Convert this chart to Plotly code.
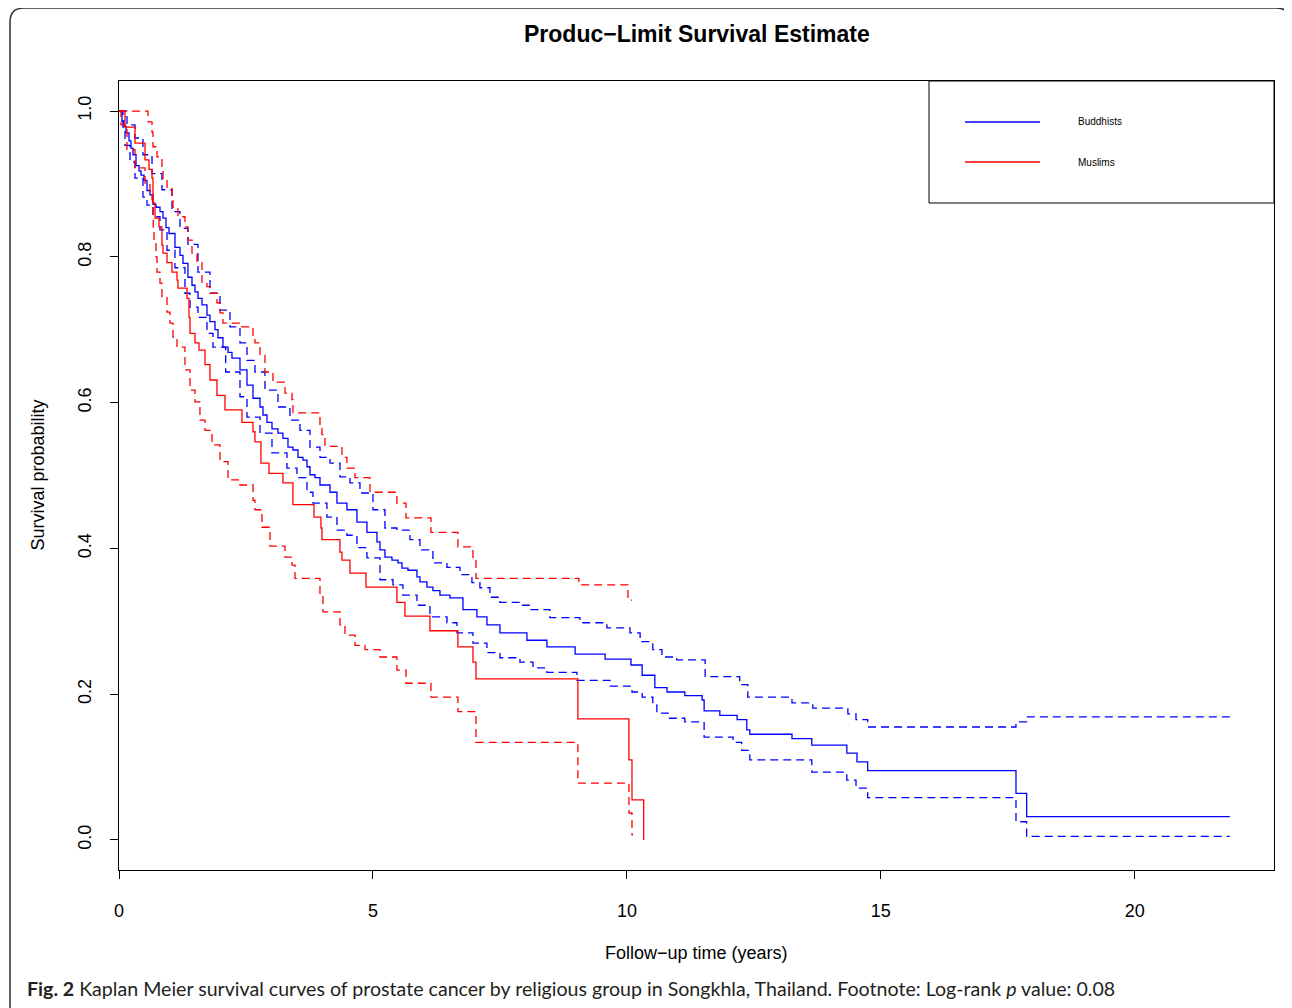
import plotly.graph_objects as go

# ---------------- data ----------------
# Buddhists: Kaplan-Meier estimate
bud_t = [0, 0.059, 0.098, 0.138, 0.197, 0.236, 0.276, 0.335, 0.394, 0.433, 0.492, 0.551, 0.610,
         0.669, 0.728, 0.807, 0.866, 0.925, 0.984, 1.102, 1.201, 1.260, 1.358, 1.437, 1.496,
         1.555, 1.634, 1.732, 1.791, 1.890, 1.949, 2.047, 2.146, 2.224, 2.382, 2.520, 2.638,
         2.776, 2.835, 2.913, 3.012, 3.130, 3.228, 3.327, 3.425, 3.524, 3.622, 3.701, 3.760,
         3.858, 3.957, 4.154, 4.291, 4.488, 4.685, 4.882, 5.079, 5.138, 5.236, 5.374, 5.492,
         5.571, 5.689, 5.866, 5.925, 6.063, 6.181, 6.319, 6.516, 6.772, 7.047, 7.244, 7.500,
         8.031, 8.425, 8.98, 9.57, 10.08, 10.30, 10.55, 10.79, 11.14, 11.48, 11.52, 11.83,
         12.17, 12.36, 12.42, 13.25, 13.64, 14.33, 14.53, 14.74, 17.66, 17.87, 21.87]
bud_s = [1.0, 0.986, 0.979, 0.970, 0.959, 0.949, 0.940, 0.925, 0.918, 0.912, 0.905, 0.891, 0.885,
         0.872, 0.868, 0.862, 0.853, 0.840, 0.832, 0.813, 0.802, 0.791, 0.772, 0.761, 0.752,
         0.743, 0.734, 0.720, 0.711, 0.700, 0.689, 0.676, 0.669, 0.661, 0.645, 0.624, 0.606,
         0.594, 0.583, 0.573, 0.564, 0.558, 0.551, 0.539, 0.535, 0.525, 0.521, 0.512, 0.501,
         0.497, 0.487, 0.477, 0.462, 0.453, 0.436, 0.422, 0.409, 0.398, 0.388, 0.384, 0.380,
         0.373, 0.370, 0.361, 0.354, 0.347, 0.342, 0.336, 0.332, 0.316, 0.306, 0.295, 0.284,
         0.274, 0.265, 0.255, 0.248, 0.240, 0.226, 0.209, 0.203, 0.198, 0.192, 0.177, 0.171,
         0.165, 0.151, 0.145, 0.139, 0.130, 0.119, 0.107, 0.095, 0.064, 0.032, 0.032]

bud_up_t = [0, 0.157, 0.315, 0.472, 0.650, 0.846, 1.043, 1.201, 1.358, 1.555, 1.791, 1.988, 2.185,
            2.382, 2.520, 2.677, 2.874, 3.130, 3.366, 3.563, 3.760, 3.957, 4.154, 4.350, 4.547,
            4.744, 5.000, 5.236, 5.472, 5.728, 5.925, 6.181, 6.457, 6.713, 6.949, 7.106, 7.303,
            7.500, 7.894, 8.091, 8.484, 9.075, 9.606, 10.06, 10.26, 10.51, 10.69, 10.98, 11.54,
            12.22, 12.38, 13.25, 13.66, 14.35, 14.51, 14.74, 17.66, 17.87, 21.87]
bud_up_s = [1.0, 0.981, 0.963, 0.940, 0.914, 0.892, 0.862, 0.839, 0.817, 0.779, 0.750, 0.727, 0.704,
            0.682, 0.658, 0.642, 0.617, 0.594, 0.576, 0.562, 0.539, 0.525, 0.517, 0.498, 0.490,
            0.476, 0.453, 0.428, 0.425, 0.412, 0.398, 0.380, 0.374, 0.364, 0.353, 0.346, 0.333,
            0.326, 0.322, 0.316, 0.305, 0.298, 0.291, 0.284, 0.272, 0.261, 0.251, 0.247, 0.224,
            0.213, 0.196, 0.188, 0.181, 0.173, 0.165, 0.155, 0.162, 0.169, 0.169]

bud_lo_t = [0, 0.079, 0.118, 0.217, 0.315, 0.472, 0.551, 0.669, 0.807, 0.945, 1.102, 1.299, 1.398,
            1.555, 1.732, 1.850, 2.10, 2.382, 2.520, 2.776, 3.012, 3.307, 3.504, 3.701, 3.819,
            4.094, 4.291, 4.488, 4.685, 4.882, 5.138, 5.394, 5.591, 5.866, 6.122, 6.457, 6.654,
            6.969, 7.244, 7.500, 7.894, 8.150, 8.425, 9.016, 9.665, 10.10, 10.30, 10.51, 10.59,
            10.81, 11.14, 11.52, 12.09, 12.26, 12.42, 13.64, 14.33, 14.51, 14.74, 17.66, 17.87,
            21.87]
bud_lo_s = [1.0, 0.974, 0.953, 0.930, 0.908, 0.882, 0.871, 0.855, 0.837, 0.809, 0.785, 0.750, 0.731,
            0.717, 0.695, 0.676, 0.642, 0.608, 0.580, 0.558, 0.531, 0.510, 0.497, 0.477, 0.462,
            0.443, 0.425, 0.418, 0.401, 0.387, 0.357, 0.350, 0.336, 0.322, 0.306, 0.298, 0.284,
            0.270, 0.257, 0.250, 0.244, 0.236, 0.230, 0.219, 0.211, 0.203, 0.196, 0.185, 0.174,
            0.167, 0.162, 0.141, 0.134, 0.123, 0.110, 0.093, 0.082, 0.071, 0.058, 0.025, 0.005,
            0.005]

# Muslims: Kaplan-Meier estimate
mus_t = [0, 0.118, 0.315, 0.512, 0.591, 0.650, 0.669, 0.709, 0.787, 0.846, 0.866, 0.945, 1.043,
         1.142, 1.161, 1.339, 1.378, 1.398, 1.496, 1.575, 1.693, 1.791, 1.929, 2.087, 2.421,
         2.638, 2.677, 2.795, 2.953, 3.228, 3.425, 3.839, 3.976, 3.996, 4.350, 4.390, 4.547,
         4.862, 5.472, 5.630, 6.122, 6.673, 6.969, 7.028, 9.035, 10.04, 10.10, 10.33]
mus_s = [1.0, 0.978, 0.956, 0.933, 0.920, 0.908, 0.874, 0.853, 0.841, 0.816, 0.805, 0.792, 0.779,
         0.768, 0.757, 0.743, 0.717, 0.695, 0.682, 0.672, 0.652, 0.631, 0.610, 0.590, 0.573,
         0.560, 0.546, 0.517, 0.503, 0.490, 0.460, 0.443, 0.428, 0.412, 0.395, 0.384, 0.366,
         0.347, 0.326, 0.307, 0.287, 0.265, 0.244, 0.221, 0.166, 0.110, 0.055, 0.0]

mus_up_t = [0, 0.571, 0.650, 0.669, 0.748, 0.846, 0.866, 0.945, 1.043, 1.063, 1.161, 1.299, 1.358,
            1.437, 1.535, 1.634, 1.732, 1.791, 1.929, 1.988, 2.047, 2.421, 2.638, 2.677, 2.776,
            2.874, 3.031, 3.268, 3.406, 3.425, 3.957, 3.996, 4.055, 4.390, 4.488, 4.646, 4.941,
            5.472, 5.650, 6.142, 6.673, 6.969, 7.028, 9.055, 10.02, 10.10]
mus_up_s = [1.0, 0.985, 0.971, 0.951, 0.937, 0.922, 0.908, 0.894, 0.882, 0.868, 0.855, 0.841, 0.823,
            0.805, 0.792, 0.765, 0.759, 0.750, 0.737, 0.723, 0.709, 0.704, 0.690, 0.682, 0.665,
            0.642, 0.628, 0.613, 0.604, 0.586, 0.567, 0.556, 0.540, 0.525, 0.510, 0.497, 0.477,
            0.462, 0.442, 0.422, 0.402, 0.384, 0.359, 0.350, 0.329, 0.329]

mus_lo_t = [0, 0.039, 0.157, 0.315, 0.512, 0.610, 0.650, 0.669, 0.675, 0.689, 0.728, 0.748, 0.807,
            0.846, 0.945, 1.004, 1.063, 1.142, 1.299, 1.398, 1.496, 1.594, 1.693, 1.831, 1.988,
            2.146, 2.382, 2.638, 2.677, 2.815, 2.972, 3.268, 3.406, 3.465, 3.957, 4.016, 4.350,
            4.449, 4.646, 4.843, 5.138, 5.472, 5.650, 6.142, 6.673, 7.028, 9.035, 10.04, 10.10,
            10.12]
mus_lo_s = [1.0, 0.981, 0.947, 0.922, 0.901, 0.885, 0.878, 0.857, 0.837, 0.819, 0.800, 0.779, 0.764,
            0.745, 0.724, 0.709, 0.690, 0.676, 0.645, 0.617, 0.601, 0.576, 0.562, 0.542, 0.519,
            0.494, 0.487, 0.466, 0.453, 0.429, 0.403, 0.388, 0.377, 0.359, 0.336, 0.313, 0.295,
            0.281, 0.267, 0.261, 0.251, 0.233, 0.215, 0.196, 0.176, 0.134, 0.078, 0.037, 0.007,
            0.007]

x_ticks = [0, 5, 10, 15, 20]
y_ticks = [0.0, 0.2, 0.4, 0.6, 0.8, 1.0]
groups = ["Buddhists", "Muslims"]

# ---------------- figure ----------------
W, H = 1292, 1008
OFF = 8                      # page body margin of the browser
L, T = 111, 73
PW, PH = 1155, 789
R, B = W - L - PW, H - T - PH

def px_x(px):
    return (px - OFF - L) / PW

def px_y(py):
    return (T + PH - (py - OFF)) / PH

BLUE = "#0000FF"
RED = "#FF0000"
DASH = "8px,5px"

fig = go.Figure()
series = [
    (bud_t, bud_s, BLUE, "solid"),
    (bud_up_t, bud_up_s, BLUE, DASH),
    (bud_lo_t, bud_lo_s, BLUE, DASH),
    (mus_t, mus_s, RED, "solid"),
    (mus_up_t, mus_up_s, RED, DASH),
    (mus_lo_t, mus_lo_s, RED, DASH),
]
for t, s, c, d in series:
    fig.add_trace(go.Scatter(x=t, y=s, mode="lines", line=dict(color=c, width=1.3, dash=d, shape="hv"),
                             showlegend=False, hoverinfo="skip"))

FONT = "Liberation Sans, Arial, Helvetica, sans-serif"

fig.update_layout(
    width=W, height=H,
    margin=dict(l=L, r=R, t=T, b=B),
    paper_bgcolor="white", plot_bgcolor="white",
    font=dict(family=FONT, size=18, color="black"),
    showlegend=False,
    xaxis=dict(range=[0, 22.74], tickvals=x_ticks, ticktext=[str(v) for v in x_ticks],
               showgrid=False, zeroline=False, showline=True, mirror=True, linecolor="black",
               linewidth=1, ticks="outside", ticklen=8, tickwidth=1, tickcolor="black",
               ticklabelstandoff=16, tickfont=dict(size=18)),
    yaxis=dict(range=[-0.0412, 1.0412], tickvals=y_ticks, ticktext=[f"{v:.1f}" for v in y_ticks],
               showgrid=False, zeroline=False, showline=True, mirror=True, linecolor="black",
               linewidth=1, ticks="outside", ticklen=8, tickwidth=1, tickcolor="black",
               tickangle=-90, ticklabelstandoff=12, tickfont=dict(size=18)),
)

# outer rounded frame
x0, x1 = px_x(10), px_x(1290)
y0, y1 = px_y(8), px_y(1030)
rx, ry = 14 / PW, 14 / PH
path = (f"M {x0},{y1} L {x0},{y0 - ry} Q {x0},{y0} {x0 + rx},{y0} "
        f"L {x1 - rx},{y0} Q {x1},{y0} {x1},{y0 - ry} L {x1},{y1}")
fig.add_shape(type="path", path=path, xref="paper", yref="paper",
              line=dict(color="#333333", width=1.5))

# legend box (R style)
fig.add_shape(type="rect", xref="paper", yref="paper",
              x0=px_x(929), x1=px_x(1274), y0=px_y(203), y1=px_y(81),
              line=dict(color="black", width=1), fillcolor="white", layer="above")
for name, c, ly in [(groups[0], BLUE, 122), (groups[1], RED, 162)]:
    fig.add_shape(type="line", xref="paper", yref="paper",
                  x0=px_x(965), x1=px_x(1040), y0=px_y(ly), y1=px_y(ly),
                  line=dict(color=c, width=1.3))
    fig.add_annotation(text=name, xref="paper", yref="paper", x=px_x(1076), y=px_y(ly),
                       xanchor="left", yanchor="middle", showarrow=False,
                       font=dict(family=FONT, size=10, color="black"))

# title and axis titles
fig.add_annotation(text="<b>Produc\u2212Limit Survival Estimate</b>", xref="paper", yref="paper",
                   x=0.5, y=px_y(34), xanchor="center", yanchor="middle", showarrow=False,
                   font=dict(family=FONT, size=23, color="black"))
fig.add_annotation(text="Follow\u2212up time (years)", xref="paper", yref="paper",
                   x=0.5, y=px_y(953), xanchor="center", yanchor="middle", showarrow=False,
                   font=dict(family=FONT, size=18, color="black"))
fig.add_annotation(text="Survival probability", xref="paper", yref="paper",
                   x=px_x(37), y=0.5, xanchor="center", yanchor="middle", showarrow=False,
                   textangle=-90, font=dict(family=FONT, size=18, color="black"))

# caption
fig.add_annotation(text="<b>Fig. 2</b> Kaplan Meier survival curves of prostate cancer by religious group in "
                        "Songkhla, Thailand. Footnote: Log-rank <i>p</i> value: 0.08",
                   xref="paper", yref="paper", x=px_x(25), y=px_y(989),
                   xanchor="left", yanchor="middle", showarrow=False,
                   font=dict(family="Lato, Open Sans, sans-serif", size=19.6, color="#231F20"))

fig.write_html("out.html")
